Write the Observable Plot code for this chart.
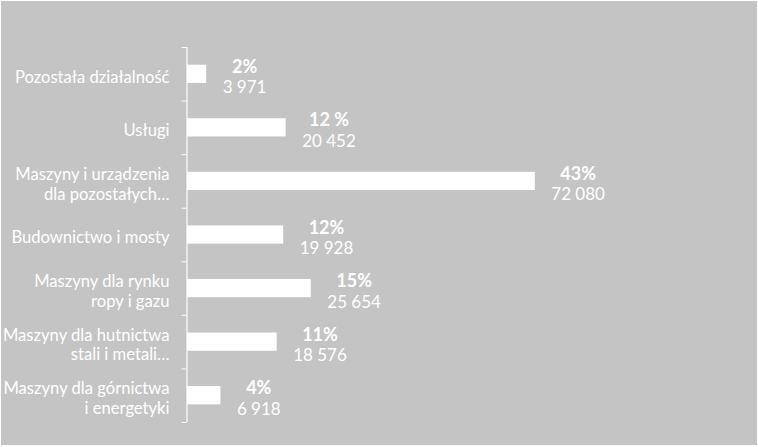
<!DOCTYPE html>
<html>
<head>
<meta charset="utf-8">
<script src="https://cdn.jsdelivr.net/npm/d3@7"></script>
<script src="https://cdn.jsdelivr.net/npm/@observablehq/plot@0.6"></script>
<style>
  html, body { margin: 0; padding: 0; background: #ffffff; }
  #chart { width: 757px; height: 446px; padding: 1px 0 0 1px; overflow: hidden; background: #ffffff; }
  #chart svg { display: block; }
</style>
</head>
<body>
<div id="chart"></div>
<script>
const categories = [
  "Pozostała działalność",
  "Usługi",
  "Maszyny i urządzenia\ndla pozostałych…",
  "Budownictwo i mosty",
  "Maszyny dla rynku\nropy i gazu",
  "Maszyny dla hutnictwa\nstali i metali…",
  "Maszyny dla górnictwa\ni energetyki"
];
const values = [3971, 20452, 72080, 19928, 25654, 18576, 6918];
const percentLabels = ["2%", "12 %", "43%", "12%", "15%", "11%", "4%"];
const valueLabels = ["3 971", "20 452", "72 080", "19 928", "25 654", "18 576", "6 918"];

const data = categories.map((c, i) => ({
  category: c, index: i, value: values[i],
  pct: percentLabels[i], num: valueLabels[i]
}));

const numFont = 17;
// measure number label widths to center the percentage above them
const ctx = document.createElement("canvas").getContext("2d");
ctx.font = numFont + "px Lato";
data.forEach(d => { d.numW = ctx.measureText(d.num).width; });

const bg = "#c4c4c4";
const fg = "#ffffff";
const numGap = 16;

const chart = Plot.plot({
  width: 756,
  height: 444,
  marginLeft: 186,
  marginRight: 184,
  marginTop: 46,
  marginBottom: 23,
  style: { background: bg, fontFamily: "Lato, sans-serif", color: fg },
  x: { type: "linear", domain: [0, 80000], axis: null },
  y: { type: "linear", domain: [categories.length, 0], axis: null },
  marks: [
    Plot.rectX(data, {
      x1: 0,
      x2: "value",
      y1: d => d.index + 0.33,
      y2: d => d.index + 0.67,
      fill: fg
    }),
    Plot.ruleX([0], { stroke: fg, strokeWidth: 1.2, dx: -0.5 }),
    Plot.axisY({
      ticks: d3.range(categories.length + 1),
      tickFormat: () => "",
      tickSize: 5,
      stroke: fg,
      color: fg,
      dx: -0.5,
      strokeOpacity: 1
    }),
    Plot.text(data, {
      x: 0,
      y: d => d.index + 0.5,
      text: "category",
      textAnchor: "end",
      lineAnchor: "middle",
      lineHeight: 1.2,
      dx: -18,
      dy: 2,
      fill: fg,
      fontSize: 16.6
    }),
    ...data.map(d => Plot.text([d], {
      x: "value",
      y: e => e.index + 0.5,
      text: "pct",
      textAnchor: "middle",
      lineAnchor: "bottom",
      dx: numGap + d.numW / 2,
      dy: -1.5,
      fill: fg,
      fontSize: 18,
      fontWeight: "bold"
    })),
    Plot.text(data, {
      x: "value",
      y: d => d.index + 0.5,
      text: "num",
      textAnchor: "start",
      lineAnchor: "bottom",
      dx: numGap,
      dy: 19,
      fill: fg,
      fontSize: numFont
    })
  ]
});

document.getElementById("chart").appendChild(chart);
</script>
</body>
</html>
